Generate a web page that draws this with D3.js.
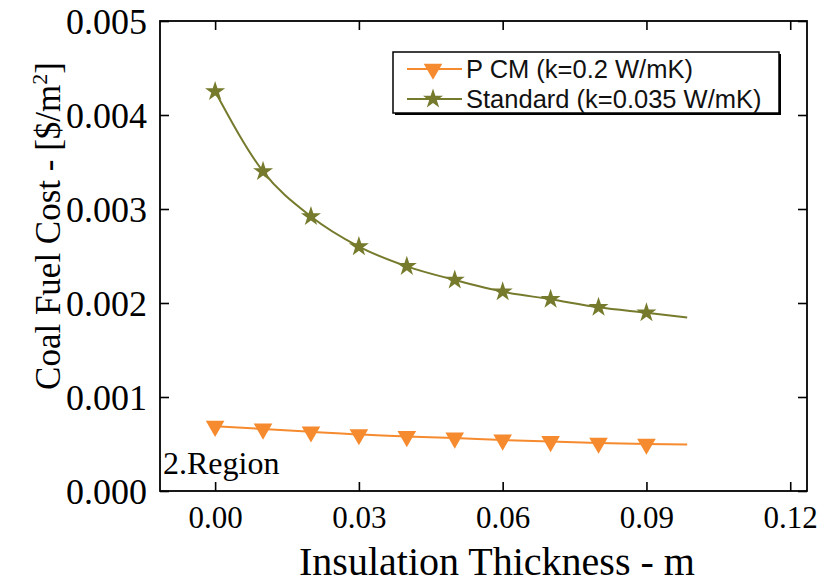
<!DOCTYPE html>
<html>
<head>
<meta charset="utf-8">
<script src="https://cdn.jsdelivr.net/npm/d3@7"></script>
<style>
  html, body { margin: 0; padding: 0; background: #fff; }
  svg { display: block; }
</style>
</head>
<body>
<svg id="chart" width="818" height="585"></svg>
<script>
// ---- data ----
const thickness = [0.00, 0.01, 0.02, 0.03, 0.04, 0.05, 0.06, 0.07, 0.08, 0.09];
const pcmCost = [0.00069, 0.00066, 0.00063, 0.00060, 0.00058, 0.000564, 0.000543, 0.000527, 0.00051, 0.00050];
const standardCost = [0.00425, 0.00340, 0.00292, 0.00260, 0.00239, 0.002245, 0.00212, 0.00204, 0.001955, 0.001897];
const curveEndX = 0.0985;
const pcmEnd = 0.000495;
const standardEnd = 0.001847;
const xTicks = [0.00, 0.03, 0.06, 0.09, 0.12];
const yTicks = [0.000, 0.001, 0.002, 0.003, 0.004, 0.005];
const seriesNames = ["P CM  (k=0.2 W/mK)", "Standard (k=0.035 W/mK)"];
const seriesColors = ["#F68A2E", "#767A2C"];

const svg = d3.select("#chart");
const L = 160, R = 807, T = 21, B = 491;
const x = d3.scaleLinear().domain([-0.0115, 0.1235]).range([L, R]);
const y = d3.scaleLinear().domain([0, 0.005]).range([B, T]);

const serif = "'Liberation Serif', 'Times New Roman', serif";
const sans = "'Liberation Sans', Arial, sans-serif";

// axes
const tickLen = 9;
const gB = svg.append("g").attr("transform", `translate(0,${B})`)
  .call(d3.axisBottom(x).tickValues(xTicks).tickFormat(d3.format(".2f")).tickSizeInner(-tickLen).tickSizeOuter(0).tickPadding(15));
const gT = svg.append("g").attr("transform", `translate(0,${T})`)
  .call(d3.axisTop(x).tickValues(xTicks).tickFormat("").tickSizeInner(-tickLen).tickSizeOuter(0));
const gL = svg.append("g").attr("transform", `translate(${L},0)`)
  .call(d3.axisLeft(y).tickValues(yTicks).tickFormat(d3.format(".3f")).tickSizeInner(-tickLen).tickSizeOuter(0).tickPadding(13));
const gR = svg.append("g").attr("transform", `translate(${R},0)`)
  .call(d3.axisRight(y).tickValues(yTicks).tickFormat("").tickSizeInner(-tickLen).tickSizeOuter(0));
[gB, gT, gL, gR].forEach(g => {
  g.select(".domain").remove();
  g.selectAll(".tick line").attr("stroke", "#000").attr("stroke-width", 1.6);
  g.selectAll("text").attr("fill", "#000").style("font-family", serif);
});
gB.selectAll("text").attr("dy", "0.71em").style("font-size", "31px");
gL.selectAll("text").attr("dy", "0.35em").style("font-size", "36px");

// frame
svg.append("rect").attr("x", L).attr("y", T).attr("width", R - L).attr("height", B - T)
  .attr("fill", "none").attr("stroke", "#000").attr("stroke-width", 1.8);

// lines
const line = d3.line().x(d => x(d[0])).y(d => y(d[1])).curve(d3.curveMonotoneX);
const pcmPts = thickness.map((t, i) => [t, pcmCost[i]]).concat([[curveEndX, pcmEnd]]);
const stdPts = thickness.map((t, i) => [t, standardCost[i]]).concat([[curveEndX, standardEnd]]);

svg.append("path").datum(pcmPts).attr("d", line).attr("fill", "none").attr("stroke", seriesColors[0]).attr("stroke-width", 2);
svg.append("path").datum(stdPts).attr("d", line).attr("fill", "none").attr("stroke", seriesColors[1]).attr("stroke-width", 2);

const tri = d3.symbol().type(d3.symbolTriangle).size(150);
const star = d3.symbol().type(d3.symbolStar).size(125);

svg.selectAll(".pcm").data(thickness).enter().append("path")
  .attr("d", tri).attr("transform", (d, i) => `translate(${x(d)},${y(pcmCost[i])}) rotate(180)`)
  .attr("fill", seriesColors[0]);
svg.selectAll(".std").data(thickness).enter().append("path")
  .attr("d", star).attr("transform", (d, i) => `translate(${x(d)},${y(standardCost[i])})`)
  .attr("fill", seriesColors[1]);

// legend
const lg = svg.append("g");
lg.append("rect").attr("x", 395).attr("y", 54).attr("width", 386).attr("height", 61).attr("fill", "#000");
lg.append("rect").attr("x", 393).attr("y", 52).attr("width", 386).attr("height", 61)
  .attr("fill", "#fff").attr("stroke", "#000").attr("stroke-width", 1.5);
const legY = [69, 99];
[0, 1].forEach(i => {
  lg.append("line").attr("x1", 407).attr("x2", 462).attr("y1", legY[i]).attr("y2", legY[i])
    .attr("stroke", seriesColors[i]).attr("stroke-width", 2);
  lg.append("path").attr("d", i === 0 ? tri : star)
    .attr("transform", `translate(433,${legY[i]})` + (i === 0 ? " rotate(180)" : ""))
    .attr("fill", seriesColors[i]);
  lg.append("text").attr("x", 466).attr("y", legY[i]).attr("dy", "0.36em")
    .style("font-family", sans).style("font-size", "25.5px").attr("fill", "#111")
    .text(seriesNames[i]);
});

// region label
svg.append("text").attr("x", 163).attr("y", 474).style("font-family", serif).style("font-size", "32px")
  .attr("fill", "#000").text("2.Region");

// axis titles
svg.append("text").attr("x", 497).attr("y", 575).attr("text-anchor", "middle")
  .style("font-family", serif).style("font-size", "40px").attr("fill", "#000")
  .text("Insulation Thickness - m");

const yt = svg.append("text").attr("transform", "translate(60,226) rotate(-90)").attr("text-anchor", "middle")
  .style("font-family", serif).style("font-size", "35px").attr("fill", "#000");
yt.append("tspan").text("Coal Fuel Cost - [$/m");
yt.append("tspan").attr("dy", "-13").style("font-size", "22px").text("2");
yt.append("tspan").attr("dy", "13").text("]");
</script>
</body>
</html>
